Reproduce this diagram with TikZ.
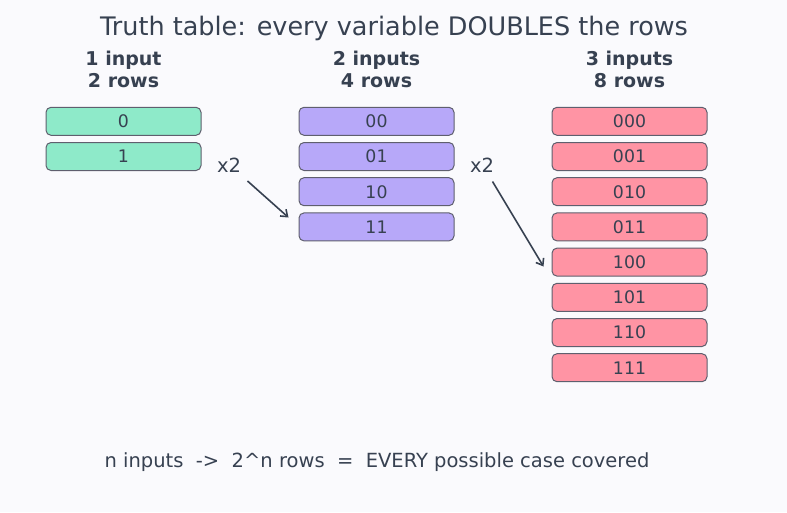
\documentclass[tikz,border=0pt]{standalone}
\usepackage{fontspec}
\setmainfont{DejaVu Sans}
\usetikzlibrary{arrows.meta}

\definecolor{paper}{RGB}{250,250,253}
\definecolor{ink}{RGB}{55,65,81}
\definecolor{boxline}{RGB}{95,95,110}
\definecolor{onefill}{RGB}{142,234,201}
\definecolor{twofill}{RGB}{183,168,249}
\definecolor{threefill}{RGB}{255,148,164}

\tikzset{
    rowbox/.style={draw=boxline, line width=1pt, rounded corners=5pt,
        minimum width=155pt, minimum height=28pt, inner sep=0pt,
        text=ink, font=\fontsize{17.3}{19}\selectfont},
    head/.style={text=ink, align=center, font=\fontsize{19}{22}\selectfont\bfseries},
    times/.style={text=ink, anchor=base, font=\fontsize{19.5}{22}\selectfont},
    doubler/.style={draw=ink, line width=1.6pt, -{Straight Barb[length=6pt,width=9pt]}}
}

\begin{document}
\begin{tikzpicture}[x=1pt, y=-1pt]
    \fill[paper] (0, 0) rectangle (787, 512);
    \useasboundingbox (0, 0) rectangle (787, 512);
        \node[text=ink, anchor=base, font=\fontsize{25.5}{28}\selectfont] (title) at (394, 35)
            {Truth table: every variable DOUBLES the rows};
        % column headers
        \node[head] (h1) at (123.5, 69) {1 input\\2 rows};
        \node[head] (h2) at (376.5, 69) {2 inputs\\4 rows};
        \node[head] (h3) at (629.5, 69) {3 inputs\\8 rows};
        % rows
        \foreach \v [count=\i] in {0,1}
            \node[rowbox, fill=onefill] (a\i) at (123.5, 86.1+35.2*\i) {\v};
        \foreach \v [count=\i] in {00,01,10,11}
            \node[rowbox, fill=twofill] (b\i) at (376.5, 86.1+35.2*\i) {\v};
        \foreach \v [count=\i] in {000,001,010,011,100,101,110,111}
            \node[rowbox, fill=threefill] (c\i) at (629.5, 86.1+35.2*\i) {\v};
        % doubling arrows
        \node[times] (x1) at (229, 172) {x2};
        \node[times] (x2) at (482, 172) {x2};
        \coordinate (s1) at (247.5, 181);
        \coordinate (e1) at (288.5, 217.5);
        \coordinate (s2) at (492.5, 181.5);
        \coordinate (e2) at (543.5, 266.5);
        \draw[doubler] (s1) -- (e1);
        \draw[doubler] (s2) -- (e2);
        \node[text=ink, anchor=base, font=\fontsize{19.5}{22}\selectfont] (note) at (377, 467)
            {n inputs\ \ ->\ \ 2\^{}n rows\ \ =\ \ EVERY possible case covered};
    \end{tikzpicture}
\end{document}
